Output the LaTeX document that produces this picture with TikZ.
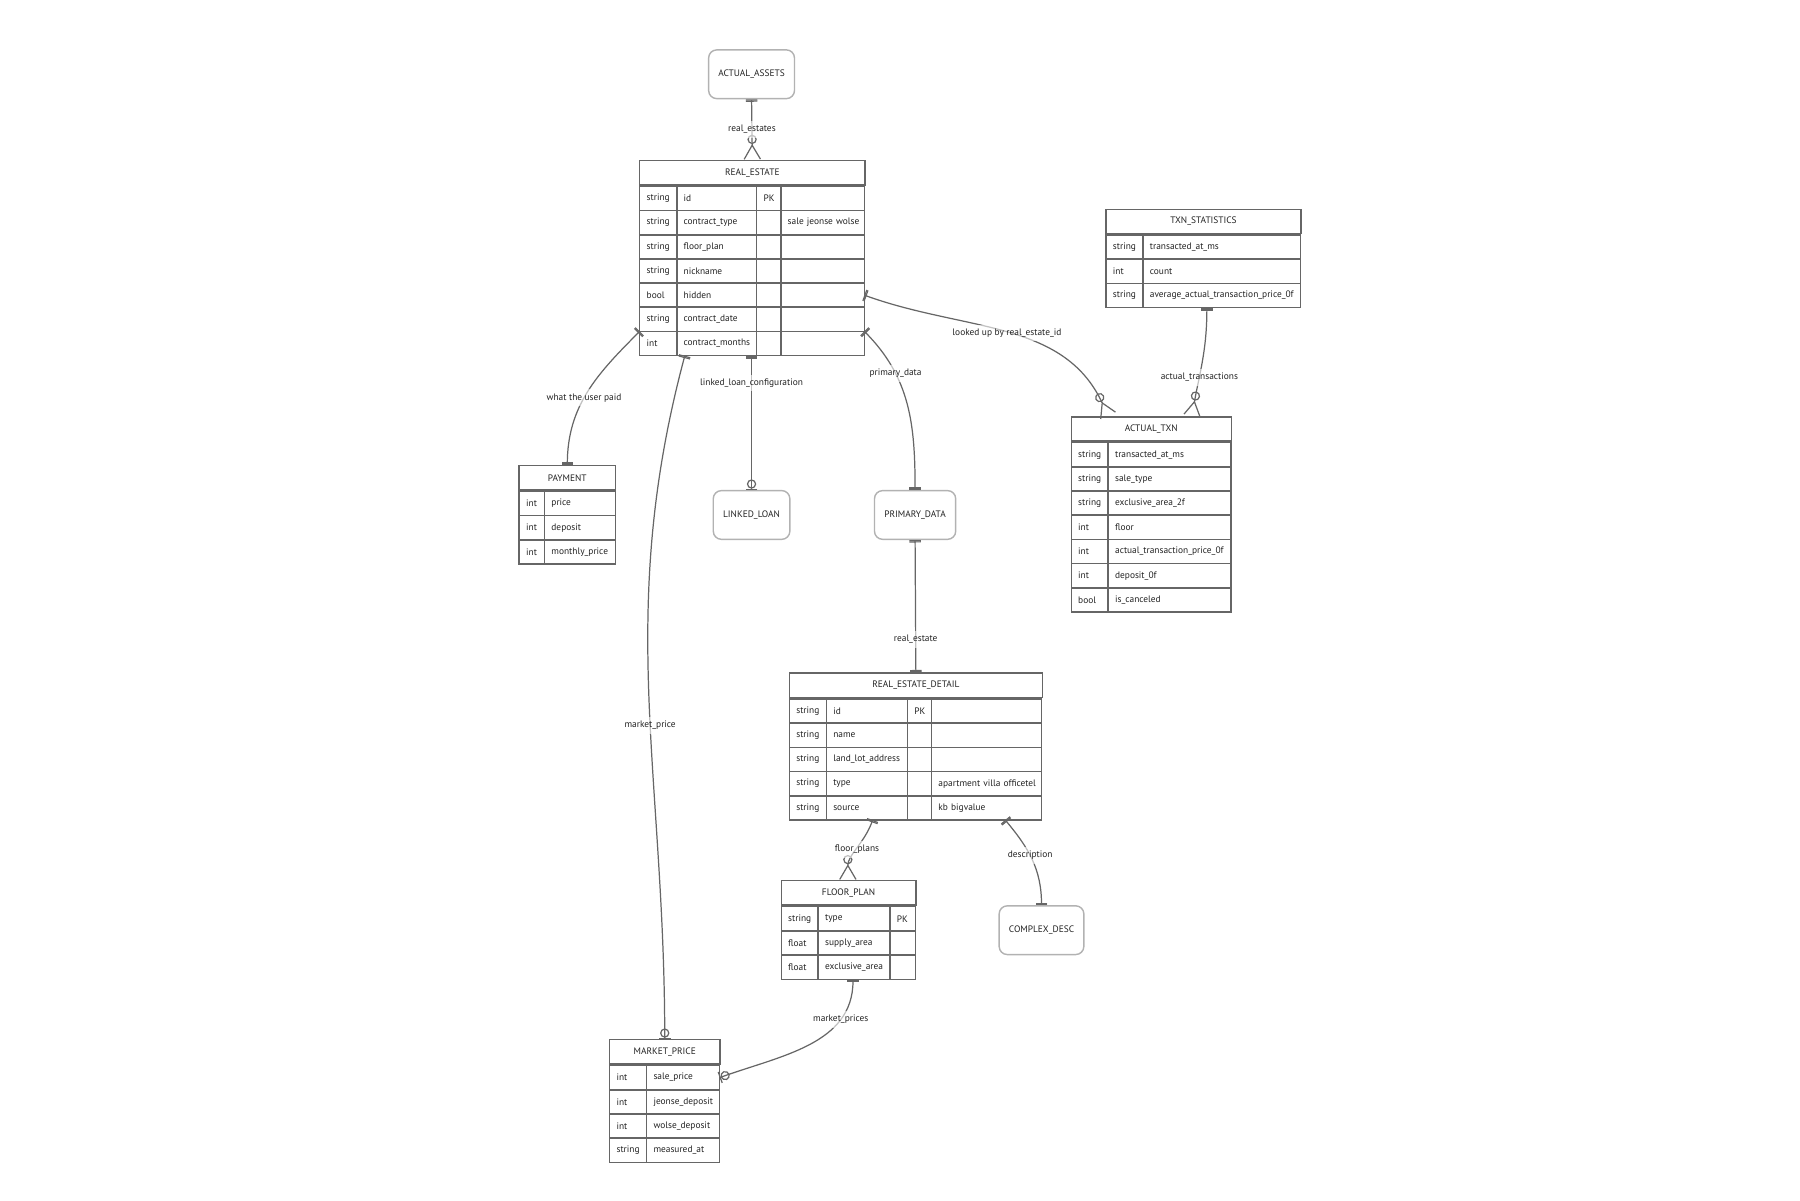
\documentclass[tikz,border=0pt]{standalone}
\usepackage{fontspec}
\setmainfont{PT Sans}
\usetikzlibrary{matrix,arrows.meta}
\definecolor{linec}{HTML}{666666}
\definecolor{txtc}{HTML}{222222}
\tikzset{
  cell/.style={draw=linec, line width=0.35pt, minimum height=0.21cm, inner xsep=0.06cm, inner ysep=0pt, align=left, anchor=center, text=txtc},
  ent/.style={matrix of nodes, nodes in empty cells, inner sep=0pt, outer sep=0pt, anchor=north west,
    column sep=-\pgflinewidth, row sep=-\pgflinewidth, nodes={cell}},
  hdr/.style={draw=linec, line width=0.35pt, minimum height=0.21cm, inner sep=0pt, anchor=south west, text=txtc},
  box/.style={draw=linec!50, line width=0.35pt, rounded corners=2pt, minimum width=#1, minimum height=0.42cm, inner sep=0pt, text=txtc},
  rel/.style={fill=white, fill opacity=0.6, text opacity=1, inner sep=1pt, text=txtc},
  conn/.style={draw=linec, line width=0.3pt},
  one/.tip={Bar[width=0.1cm,line width=0.3pt] Bar[width=0.1cm,line width=0.3pt]},
  zmany/.tip={Circle[open,length=0.08cm,line width=0.3pt] Straight Barb[reversed,length=0.12cm,width=0.14cm,line width=0.3pt]},
  zone/.tip={Circle[open,length=0.08cm,line width=0.3pt] Bar[width=0.1cm,line width=0.3pt]},
}
\begin{document}
\begin{tikzpicture}[x=0.01cm,y=-0.01cm,font=\fontsize{2.3}{2.7}\selectfont]
\useasboundingbox (0,0) rectangle (1552,1035);

% entities without attributes
\node[box=0.74cm] (aa) at (648,64) {ACTUAL\_ASSETS};
\node[box=0.66cm] (ll) at (648,444) {LINKED\_LOAN};
\node[box=0.70cm] (pd) at (789,444) {PRIMARY\_DATA};
\node[box=0.73cm] (cd) at (898,802) {COMPLEX\_DESC};

% REAL_ESTATE
\matrix (re) [ent, column 1/.style={nodes={text width=0.20cm}}, column 2/.style={nodes={text width=0.57cm}},
  column 3/.style={nodes={text width=0.09cm}}, column 4/.style={nodes={text width=0.60cm}}] at (551,160) {
  string & id & PK & \\
  string & contract\_type & & \mbox{sale jeonse wolse} \\
  string & floor\_plan & & \\
  string & nickname & & \\
  bool & hidden & & \\
  string & contract\_date & & \\
  int & contract\_months & & \\
};
\node[hdr, minimum width=1.94cm] (reh) at (re.north west) {REAL\_ESTATE};

% TXN_STATISTICS
\matrix (ts) [ent, column 1/.style={nodes={text width=0.20cm}}, column 2/.style={nodes={text width=1.24cm}}] at (953,202) {
  string & transacted\_at\_ms \\
  int & count \\
  string & average\_actual\_transaction\_price\_0f \\
};
\node[hdr, minimum width=1.68cm] (tsh) at (ts.north west) {TXN\_STATISTICS};

% ACTUAL_TXN
\matrix (at) [ent, column 1/.style={nodes={text width=0.20cm}}, column 2/.style={nodes={text width=0.94cm}}] at (923,381) {
  string & transacted\_at\_ms \\
  string & sale\_type \\
  string & exclusive\_area\_2f \\
  int & floor \\
  int & actual\_transaction\_price\_0f \\
  int & deposit\_0f \\
  bool & is\_canceled \\
};
\node[hdr, minimum width=1.38cm] (ath) at (at.north west) {ACTUAL\_TXN};

% PAYMENT
\matrix (pay) [ent, column 1/.style={nodes={text width=0.10cm}}, column 2/.style={nodes={text width=0.49cm}}] at (447,423) {
  int & price \\
  int & deposit \\
  int & monthly\_price \\
};
\node[hdr, minimum width=0.83cm] (payh) at (pay.north west) {PAYMENT};

% REAL_ESTATE_DETAIL
\matrix (rd) [ent, column 1/.style={nodes={text width=0.20cm}}, column 2/.style={nodes={text width=0.58cm}},
  column 3/.style={nodes={text width=0.09cm}}, column 4/.style={nodes={text width=0.83cm}}] at (680,602) {
  string & id & PK & \\
  string & name & & \\
  string & land\_lot\_address & & \\
  string & type & & \mbox{apartment villa officetel} \\
  string & source & & kb bigvalue \\
};
\node[hdr, minimum width=2.18cm] (rdh) at (rd.north west) {REAL\_ESTATE\_DETAIL};

% FLOOR_PLAN
\matrix (fp) [ent, column 1/.style={nodes={text width=0.20cm}}, column 2/.style={nodes={text width=0.50cm}},
  column 3/.style={nodes={text width=0.10cm}}] at (673,781) {
  string & type & PK \\
  float & supply\_area & \\
  float & exclusive\_area & \\
};
\node[hdr, minimum width=1.16cm] (fph) at (fp.north west) {FLOOR\_PLAN};

% MARKET_PRICE
\matrix (mp) [ent, column 1/.style={nodes={text width=0.20cm}}, column 2/.style={nodes={text width=0.51cm}}] at (525,918) {
  int & sale\_price \\
  int & jeonse\_deposit \\
  int & wolse\_deposit \\
  string & measured\_at \\
};
\node[hdr, minimum width=0.95cm] (mph) at (mp.north west) {MARKET\_PRICE};

% relationships
\draw[conn, {one}-{zmany}] (aa.south) -- node[rel] {real\_estates} (reh.north);
\draw[conn, {one}-{one}] (re-7-1.north west) to[out=225,in=90] node[rel, pos=0.55] {what the user paid} (payh.north);
\draw[conn, {one}-{zone}] ([xshift=0.07cm]re-7-2.south west) to[out=-105,in=90] node[rel, pos=0.55] {market\_price} (mph.north);
\draw[conn, {one}-{zone}] (aa.south |- re.south) -- node[rel, pos=0.2] {linked\_loan\_configuration} (ll.north);
\draw[conn, {one}-{one}] (re-7-4.north east) to[out=-45,in=90] node[rel, pos=0.3] {primary\_data} (pd.north);
\draw[conn, {one}-{zmany}] (re-5-4.east) to[out=-20,in=115] node[rel, pos=0.5] {looked up by real\_estate\_id} (at-1-1.north east |- ath.north);
\draw[conn, {one}-{zmany}] ([xshift=0.03cm]ts.south) to[out=-90,in=80] node[rel, pos=0.65] {actual\_transactions} ([xshift=0.35cm]ath.north);
\draw[conn, {one}-{one}] (pd.south) -- node[rel, pos=0.75] {real\_estate} (rdh.north);
\draw[conn, {one}-{zmany}] ([xshift=-0.3cm]rd-5-2.south east) to[out=-110,in=90] node[rel] {floor\_plans} ([xshift=0.58cm]fph.north west);
\draw[conn, {one}-{one}] ([xshift=0.16cm]rd-5-4.south) to[out=-50,in=90] node[rel, pos=0.45] {description} (cd.north);
\draw[conn, {one}-{zone}] ([xshift=0.04cm]fp.south) to[out=-90,in=20] node[rel, pos=0.25] {market\_prices} (mp-1-2.east);
\end{tikzpicture}
\end{document}
